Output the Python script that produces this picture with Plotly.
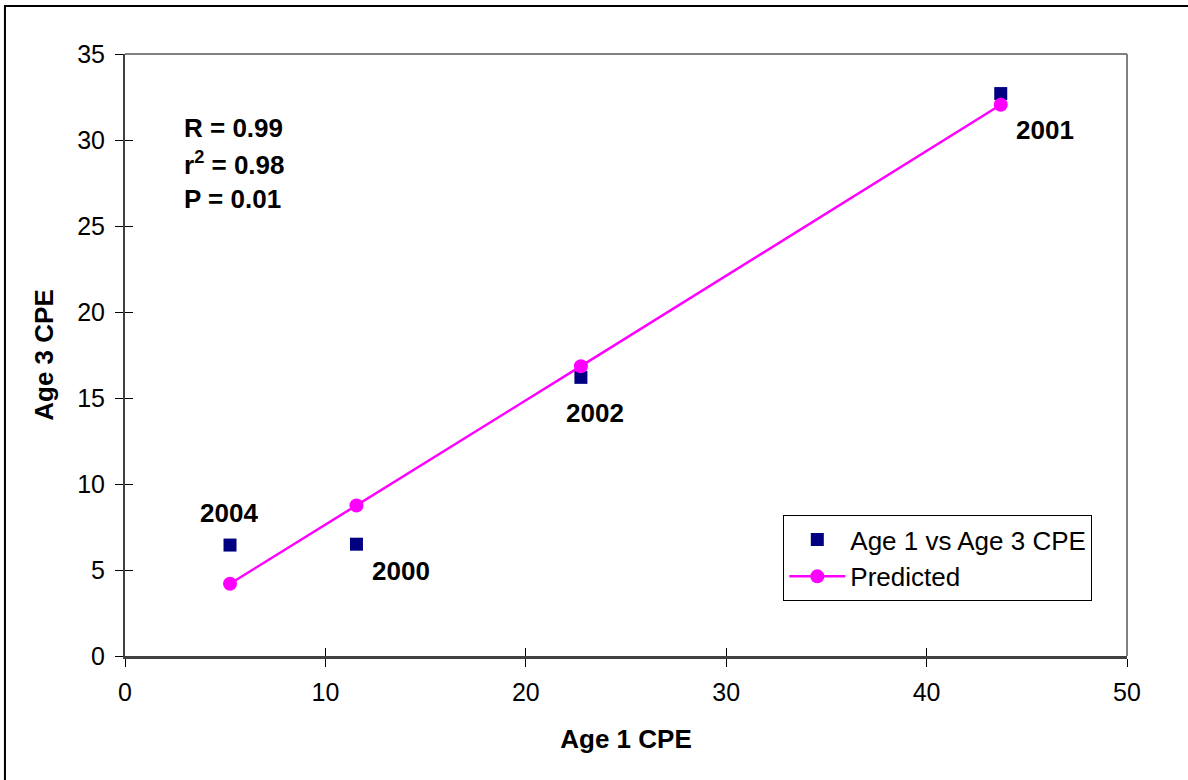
import plotly.graph_objects as go

years = ["2004", "2000", "2002", "2001"]
age1_cpe = [5.24, 11.55, 22.75, 43.7]
age3_cpe = [6.45, 6.5, 16.2, 32.7]
predicted = [4.2, 8.75, 16.85, 32.05]
label_shift = [(-1, 32), (45, -27), (14, -36), (44, -36)]
stats = ["R = 0.99", "r<sup>2</sup> = 0.98", "P = 0.01"]

FONT = "Liberation Sans, Arial, sans-serif"

fig = go.Figure()
fig.add_trace(go.Scatter(
    x=age1_cpe, y=age3_cpe, mode="markers", name="Age 1 vs Age 3 CPE",
    marker=dict(symbol="square", size=13, color="#000080"),
))
fig.add_trace(go.Scatter(
    x=age1_cpe, y=predicted, mode="lines+markers", name="Predicted",
    line=dict(color="#FF00FF", width=2.5),
    marker=dict(symbol="circle", size=14, color="#FF00FF"),
))
# invisible trace for inside ticks overlay
fig.add_trace(go.Scatter(x=[None], y=[None], xaxis="x2", yaxis="y2",
                         showlegend=False, hoverinfo="skip"))

annotations = []
for yr, xv, yv, (dx, dy) in zip(years, age1_cpe, age3_cpe, label_shift):
    annotations.append(dict(x=xv, y=yv, xref="x", yref="y", text="<b>" + yr + "</b>",
                            showarrow=False, xshift=dx, yshift=dy,
                            font=dict(family=FONT, size=26, color="black")))
for i, s in enumerate(stats):
    annotations.append(dict(x=0.057, y=0.877 - i * 0.059, xref="paper", yref="paper",
                            text="<b>" + s + "</b>", showarrow=False,
                            xanchor="left", yanchor="middle",
                            font=dict(family=FONT, size=26, color="black")))

shapes = [
    # outer border
    dict(type="rect", xref="paper", yref="paper", x0=-0.1198, x1=1.2, y0=-0.4, y1=1.0797,
         line=dict(color="black", width=2), fillcolor="rgba(0,0,0,0)", layer="below"),
    # top and right plot-area border
    dict(type="line", xref="paper", yref="paper", x0=0, x1=1, y0=1, y1=1,
         line=dict(color="#808080", width=2)),
    dict(type="line", xref="paper", yref="paper", x0=1, x1=1, y0=0, y1=1,
         line=dict(color="#808080", width=2)),
]

axis_common = dict(showgrid=False, zeroline=False, ticks="outside", ticklen=8,
                   tickwidth=1, tickcolor="black",
                   tickfont=dict(family=FONT, size=25, color="black"))

fig.update_layout(
    width=1188, height=780,
    margin=dict(l=125, r=61, t=54, b=124),
    paper_bgcolor="white", plot_bgcolor="white",
    font=dict(family=FONT, color="black"),
    xaxis=dict(range=[0, 50], dtick=10, showline=True, linecolor="#404040", linewidth=3,
               ticklabelstandoff=4,
               title=dict(text="<b>Age 1 CPE</b>", font=dict(family=FONT, size=26), standoff=25),
               **axis_common),
    yaxis=dict(range=[0, 35], dtick=5, showline=True, linecolor="#404040", linewidth=2,
               ticklabelstandoff=5,
               title=dict(text="<b>Age 3 CPE</b>", font=dict(family=FONT, size=26), standoff=16),
               **axis_common),
    xaxis2=dict(range=[0, 50], dtick=10, overlaying="x", matches="x", showgrid=False,
                zeroline=False, ticks="inside", ticklen=8, tickcolor="black",
                showticklabels=False, showline=False, anchor="y2", side="bottom"),
    yaxis2=dict(range=[0, 35], dtick=5, overlaying="y", matches="y", showgrid=False,
                zeroline=False, ticks="inside", ticklen=8, tickcolor="black",
                showticklabels=False, showline=False, anchor="x2", side="left"),
    legend=dict(x=0.657, y=0.234, xanchor="left", yanchor="top",
                bordercolor="black", borderwidth=1, bgcolor="white",
                font=dict(family=FONT, size=26, color="black"),
                itemwidth=56, tracegroupgap=0),
    annotations=annotations,
    shapes=shapes,
    showlegend=True,
)

fig.write_html("out.html")
